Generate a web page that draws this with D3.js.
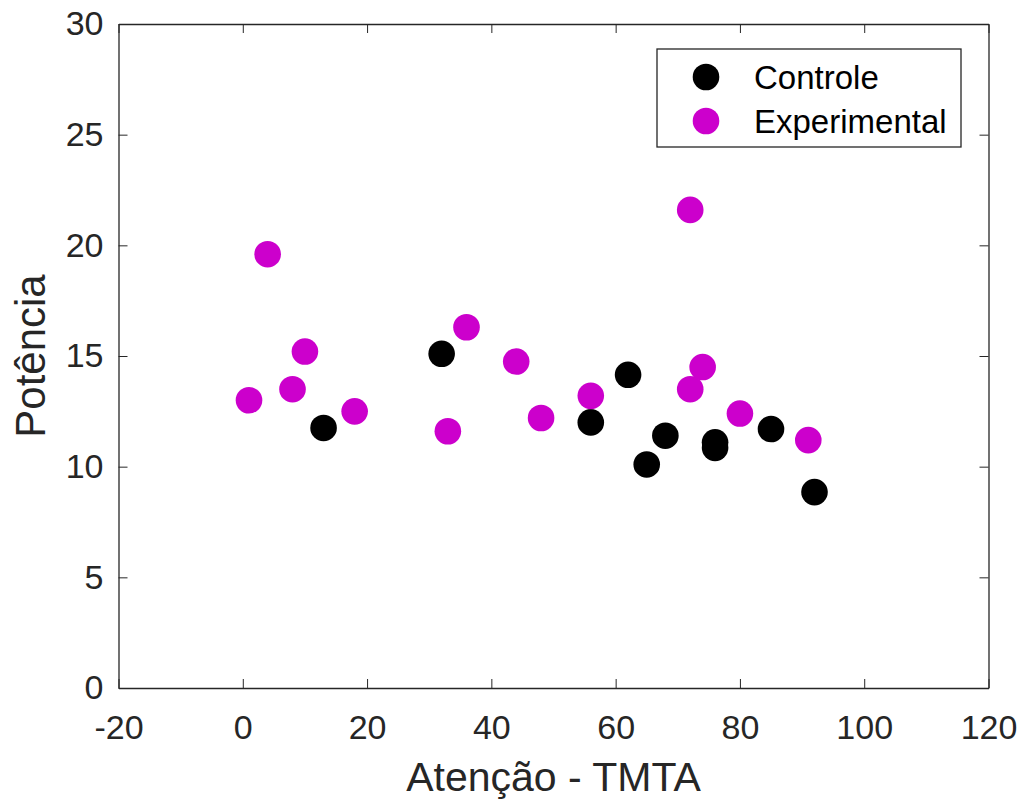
<html>
    <head>
        <meta charset="utf-8" />
        <script src="https://d3js.org/d3.v7.min.js"></script>
        <style>
            body { margin: 0; background: #fff; }
            text { font-family: "Liberation Sans", Arial, sans-serif; fill: #262626; }
            .axis path, .axis line { stroke: #262626; }
        </style>
    </head>
    <body>
        <svg id="chart" width="1023" height="799"></svg>
        <script>
            // Controle group
            let controleX = [13, 32, 56, 62, 65, 68, 76, 76, 85, 92]
            let controleY = [11.75, 15.1, 12.0, 14.15, 10.1, 11.4, 11.1, 10.85, 11.7, 8.85]
            // Experimental group
            let experimentalX = [1, 4, 8, 10, 18, 33, 36, 44, 48, 56, 72, 72, 74, 80, 91]
            let experimentalY = [13.0, 19.6, 13.5, 15.2, 12.5, 11.6, 16.3, 14.75, 12.2, 13.2, 21.6, 13.5, 14.5, 12.4, 11.2]
            let xTicks = [-20, 0, 20, 40, 60, 80, 100, 120]
            let yTicks = [0, 5, 10, 15, 20, 25, 30]
            let seriesNames = ["Controle", "Experimental"]
            let seriesColors = ["#000000", "#cc00cc"]

            let plotLeft = 118.5, plotRight = 988.5, plotTop = 24, plotBottom = 688
            let x = d3.scaleLinear().domain([-20, 120]).range([plotLeft, plotRight])
            let y = d3.scaleLinear().domain([0, 30]).range([plotBottom, plotTop])
            let svg = d3.select("#chart")
            let plain = d => String(d)  // hyphen minus, like the original

            // box with inward ticks on all four sides
            svg.append("g").attr("class", "axis").attr("transform", `translate(0,${plotBottom})`)
                .call(d3.axisBottom(x).tickValues(xTicks).tickFormat(plain).tickSizeInner(-9).tickSizeOuter(0).tickPadding(27))
            svg.append("g").attr("class", "axis").attr("transform", `translate(0,${plotTop})`)
                .call(d3.axisTop(x).tickValues(xTicks).tickSizeInner(-9).tickSizeOuter(0).tickFormat(""))
            svg.append("g").attr("class", "axis").attr("transform", `translate(${plotLeft},0)`)
                .call(d3.axisLeft(y).tickValues(yTicks).tickFormat(plain).tickSizeInner(-9).tickSizeOuter(0).tickPadding(15))
            svg.append("g").attr("class", "axis").attr("transform", `translate(${plotRight},0)`)
                .call(d3.axisRight(y).tickValues(yTicks).tickSizeInner(-9).tickSizeOuter(0).tickFormat(""))
            svg.selectAll(".axis text").style("font-size", "34px").style("font-family", "'Liberation Sans', Arial, sans-serif").attr("fill", "#262626")
            svg.selectAll(".axis .domain").attr("stroke-width", 1.3)

            // points
            let controle = controleX.map((v, i) => [v, controleY[i]])
            let experimental = experimentalX.map((v, i) => [v, experimentalY[i]])
            svg.append("g").selectAll("circle").data(controle).enter().append("circle")
                .attr("cx", d => x(d[0])).attr("cy", d => y(d[1])).attr("r", 13.3).attr("fill", seriesColors[0])
            svg.append("g").selectAll("circle").data(experimental).enter().append("circle")
                .attr("cx", d => x(d[0])).attr("cy", d => y(d[1])).attr("r", 13.3).attr("fill", seriesColors[1])

            // axis labels
            svg.append("text").attr("x", (plotLeft + plotRight) / 2).attr("y", 791).attr("text-anchor", "middle")
                .style("font-size", "41px").text("Atenção - TMTA")
            svg.append("text").attr("transform", `translate(45,${(plotTop + plotBottom) / 2}) rotate(-90)`).attr("text-anchor", "middle")
                .style("font-size", "42px").text("Potência")

            // legend
            let legend = svg.append("g")
            legend.append("rect").attr("x", 657).attr("y", 49).attr("width", 304).attr("height", 98)
                .attr("fill", "#fff").attr("stroke", "#262626").attr("stroke-width", 1.3)
            seriesNames.forEach((name, i) => {
                legend.append("circle").attr("cx", 706).attr("cy", 77 + i * 44).attr("r", 13.3).attr("fill", seriesColors[i])
                legend.append("text").attr("x", 754).attr("y", 77 + i * 44 + 12).style("font-size", "33px").style("fill", "#000").text(name)
            })
        </script>
    </body>
</html>
